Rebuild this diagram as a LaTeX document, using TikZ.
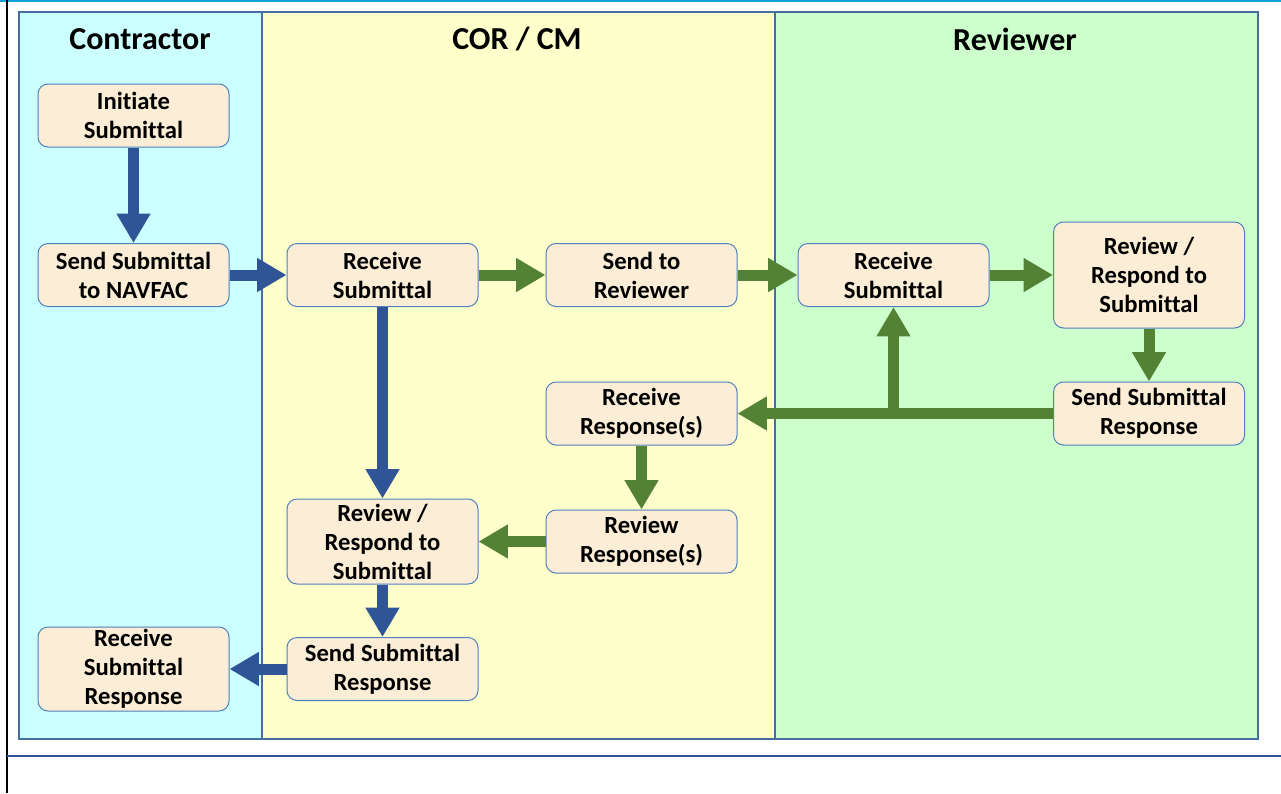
\documentclass[tikz,border=0pt]{standalone}
\usepackage{fontspec}
\setmainfont{Carlito}[Ligatures=NoCommon]
\usetikzlibrary{arrows.meta}

\definecolor{lanecyan}{RGB}{204,255,255}
\definecolor{laneyellow}{RGB}{255,255,204}
\definecolor{lanegreen}{RGB}{204,255,204}
\definecolor{laneline}{RGB}{70,110,160}
\definecolor{boxfill}{RGB}{251,237,214}
\definecolor{boxline}{RGB}{79,129,189}
\definecolor{flowblue}{RGB}{47,85,151}
\definecolor{flowgreen}{RGB}{84,130,53}
\definecolor{topline}{RGB}{20,160,220}

\tikzset{every picture/.style={line width=0.75pt},
  lane/.style={draw=laneline, line width=1.1pt},
  lanetitle/.style={font=\fontsize{24}{28}\selectfont\bfseries},
  task/.style={draw=boxline, fill=boxfill, rounded corners=7.5pt, minimum width=143.25pt, minimum height=47.25pt, inner sep=1pt, align=center, font=\fontsize{18.5}{21.8}\selectfont\bfseries},
  bluearrow/.style={draw=flowblue, line width=8.25pt, -{Triangle[width=24pt,length=22pt]}},
  greenarrow/.style={draw=flowgreen, line width=8.25pt, -{Triangle[width=24pt,length=22pt]}}}

\begin{document}
\begin{tikzpicture}[x=0.75pt,y=0.75pt,yscale=-1,xscale=1]
\useasboundingbox (0,0) rectangle (1281,793);
%Frame lines
\draw [topline, line width=2pt] (0,1) -- (1281,1) ;
\draw [black, line width=1.8pt] (7,0) -- (7,793) ;
\draw [flowblue, line width=1.8pt] (7,756) -- (1281,756) ;
%Lanes
\draw [lane, fill=lanecyan] (19,12) rectangle (262,739) ;
\draw [lane, fill=laneyellow] (262,12) rectangle (775,739) ;
\draw [lane, fill=lanegreen] (775,12) rectangle (1258,739) ;

% Text Node
\node [lanetitle] (tcon) at (140,39) {Contractor};
% Text Node
\node [lanetitle] (tcor) at (517,39) {COR / CM};
% Text Node
\node [lanetitle] (trev) at (1015,39) {Reviewer};

% Contractor
\node [task] (init) at (133.5,115.5) {Initiate\\Submittal};
\node [task] (sendnav) at (133.5,275) {Send Submittal\\to NAVFAC};
\node [task, minimum height=63pt] (conrec) at (133.5,669) {Receive\\Submittal\\Response};
% COR / CM
\node [task] (recsub) at (382.5,275) {Receive\\Submittal};
\node [task] (sendrev) at (641.5,275) {Send to\\Reviewer};
\node [task] (recresp) at (641.5,413.5) {Receive\\Response(s)};
\node [task] (chkresp) at (641.5,541.5) {Review\\Response(s)};
\node [task, minimum height=63.75pt] (corresp) at (382.5,541.5) {Review /\\Respond to\\Submittal};
\node [task] (corsend) at (382.5,669) {Send Submittal\\Response};
% Reviewer
\node [task] (revrec) at (893.5,275) {Receive\\Submittal};
\node [task, minimum height=79.5pt] (revresp) at (1149,275) {Review /\\Respond to\\Submittal};
\node [task] (revsend) at (1149,413.5) {Send Submittal\\Response};
\coordinate (split) at (revrec |- revsend);

%Arrows
\draw [bluearrow] (init) -- (sendnav) ;
\draw [bluearrow] (sendnav) -- (recsub) ;
\draw [greenarrow] (recsub) -- (sendrev) ;
\draw [greenarrow] (sendrev) -- (revrec) ;
\draw [greenarrow] (revrec) -- (revresp) ;
\draw [greenarrow] (revresp) -- (revsend) ;
\draw [greenarrow] (revsend) -- (recresp) ;
\draw [greenarrow] (split) -- (revrec) ;
\draw [greenarrow] (recresp) -- (chkresp) ;
\draw [greenarrow] (chkresp) -- (corresp) ;
\draw [bluearrow] (recsub) -- (corresp) ;
\draw [bluearrow] (corresp) -- (corsend) ;
\draw [bluearrow] (corsend) -- (conrec) ;
\end{tikzpicture}
\end{document}
